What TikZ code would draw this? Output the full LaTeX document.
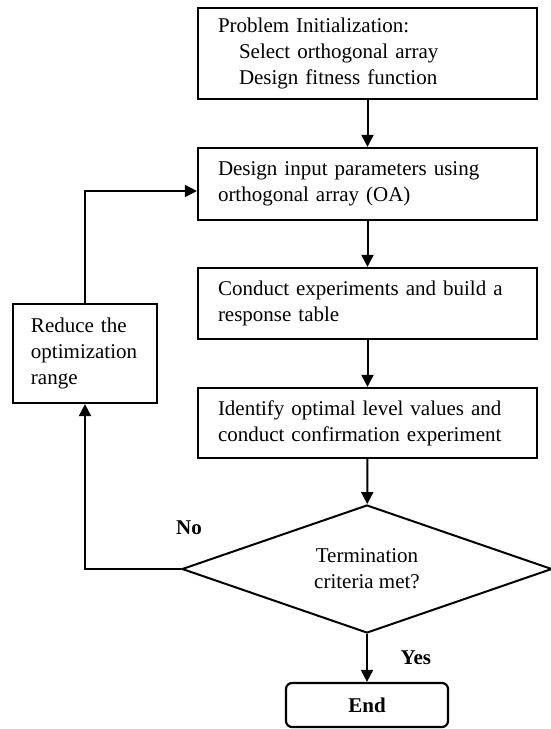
\documentclass[tikz,border=0pt]{standalone}
\usepackage{fontspec}
\setmainfont{Liberation Serif}
\usepackage{tikz}
\usetikzlibrary{shapes.geometric, arrows.meta}

\begin{document}
\begin{tikzpicture}[x=0.5pt, y=-0.5pt,
    txt/.style={font=\fontsize{10.5}{13}\selectfont},
    stepbox/.style={txt, draw, line width=1.1pt, text width=149.5pt, inner xsep=10pt, align=left},
    flow/.style={line width=1pt, -{Triangle[length=6pt, width=6pt]}}]
    \useasboundingbox (0,0) rectangle (551,729);

    % Main column
    \node[stepbox, minimum height=45.5pt] (init) at (367.5,53.5)
        {Problem Initialization:\\
         \hspace*{1em}Select orthogonal array\\
         \hspace*{1em}Design fitness function};
    \node[stepbox, minimum height=36pt] (design) at (367.5,184)
        {Design input parameters using\\ orthogonal array (OA)};
    \node[stepbox, minimum height=35.5pt] (conduct) at (367.5,303.5)
        {Conduct experiments and build a\\ response table};
    \node[stepbox, minimum height=35pt] (identify) at (367.5,423)
        {Identify optimal level values and\\ conduct confirmation experiment};

    % Decision and end
    \node[txt, draw, diamond, aspect=2.9, line width=1pt, minimum width=185pt, minimum height=64pt, inner sep=0pt, align=center]
        (term) at (367,569) {Termination\\ criteria met?};
    \node[txt, draw, rounded corners=3pt, line width=1.1pt, minimum width=81pt, minimum height=22pt, font=\fontsize{10.5}{13}\selectfont\bfseries]
        (finish) at (367,705) {End};

    % Loop back box
    \node[txt, draw, line width=1.1pt, minimum width=72pt, minimum height=49.5pt, text width=54pt, inner xsep=9pt, align=left]
        (reduce) at (85,353.5) {Reduce the\\ optimization\\ range};

    % Arrows
    \draw[flow] (init) -- (design);
    \draw[flow] (design) -- (conduct);
    \draw[flow] (conduct) -- (identify);
    \draw[flow] (identify) -- (term);
    \draw[flow] (term) -- (finish) node[midway, right=13pt, font=\fontsize{10.5}{13}\selectfont\bfseries] {Yes};
    \draw[flow] (term.west) -| (reduce.south);
    \draw[flow] (reduce.north) |- ([yshift=-3.5pt]design.west);
    \node[font=\fontsize{10.5}{13}\selectfont\bfseries] (nolbl) at (189,528) {No};
\end{tikzpicture}
\end{document}
